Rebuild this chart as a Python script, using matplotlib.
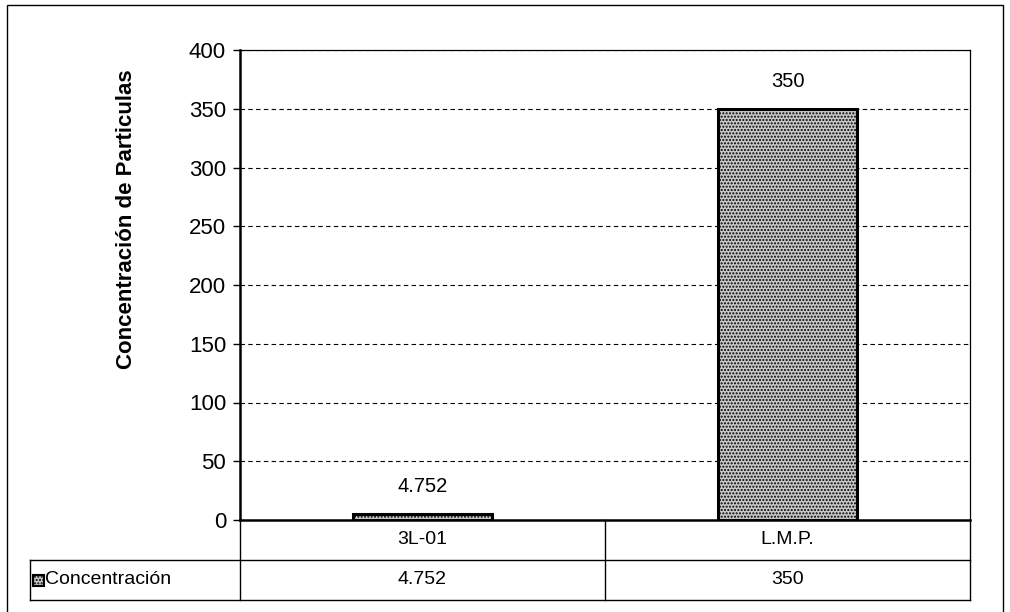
import matplotlib.pyplot as plt
from matplotlib.patches import Rectangle

plt.rcParams['font.family'] = ['Liberation Sans', 'DejaVu Sans']
plt.rcParams['hatch.color'] = '#8a8a8a'

# datos
categorias = ['3L-01', 'L.M.P.']
concentracion = [4.752, 350]
etiquetas = ['4.752', '350']
serie = 'Concentración'
yticks = [0, 50, 100, 150, 200, 250, 300, 350, 400]

fig = plt.figure(figsize=(10.1, 6.12), dpi=100)
ax = fig.add_axes([240 / 1010, 1 - 520 / 612, 730 / 1010, 470 / 612])

x = range(len(categorias))
barras = ax.bar(x, concentracion, width=0.38, color='#c8c8c8', edgecolor='black',
                linewidth=2.2, hatch='.....', zorder=3)

for xi, v, t in zip(x, concentracion, etiquetas):
    ax.annotate(t, (xi, v), xytext=(0, 13), textcoords='offset points',
                ha='center', va='bottom', fontsize=14.5)

ax.set_xlim(-0.5, 1.5)
ax.set_ylim(0, 400)
ax.set_yticks(yticks)
ax.set_yticklabels([str(t) for t in yticks], fontsize=16)
ax.set_xticks([])
ax.yaxis.grid(True, linestyle=(0, (4, 3)), color='black', linewidth=0.8, zorder=0)
ax.tick_params(axis='y', length=5, width=1, direction='out', pad=5)
for s in ['left', 'bottom']:
    ax.spines[s].set_linewidth(1.8)
for s in ['top', 'right']:
    ax.spines[s].set_linewidth(0.9)
ax.set_ylabel('Concentración de Particulas', fontsize=16, fontweight='bold')
ax.yaxis.set_label_coords(-103 / 730, 0.64)

# tabla de datos debajo del grafico
rh = 40 / 470
izq = -210 / 730
kw = dict(transform=ax.transAxes, clip_on=False, color='black', linewidth=1)
ax.plot([0, 0], [0, -2 * rh], **kw)
ax.plot([0.5, 0.5], [0, -2 * rh], **kw)
ax.plot([1, 1], [0, -2 * rh], **kw)
ax.plot([izq, 1], [-rh, -rh], **kw)
ax.plot([izq, 1], [-2 * rh, -2 * rh], **kw)
ax.plot([izq, izq], [-rh, -2 * rh], **kw)

for i, c in enumerate(categorias):
    ax.text(0.25 + 0.5 * i, -rh / 2, c, transform=ax.transAxes, ha='center',
            va='center', fontsize=14)
    ax.text(0.25 + 0.5 * i, -1.5 * rh, etiquetas[i], transform=ax.transAxes,
            ha='center', va='center', fontsize=14)

key = Rectangle((izq + 3 / 730, -1.5 * rh - 6 / 470), 11 / 730, 11 / 470,
                transform=ax.transAxes, clip_on=False, facecolor='#c8c8c8',
                edgecolor='black', linewidth=1.5, hatch='.....')
ax.add_patch(key)
ax.text(izq + 15 / 730, -1.5 * rh, serie, transform=ax.transAxes, ha='left',
        va='center', fontsize=14)

# marco exterior
fig.add_artist(Rectangle((7 / 1010, -0.01), 996 / 1010, 1 - 5 / 612 + 0.01,
                         transform=fig.transFigure, fill=False,
                         edgecolor='black', linewidth=1))

fig.savefig('out.png', dpi=100, facecolor='white')
